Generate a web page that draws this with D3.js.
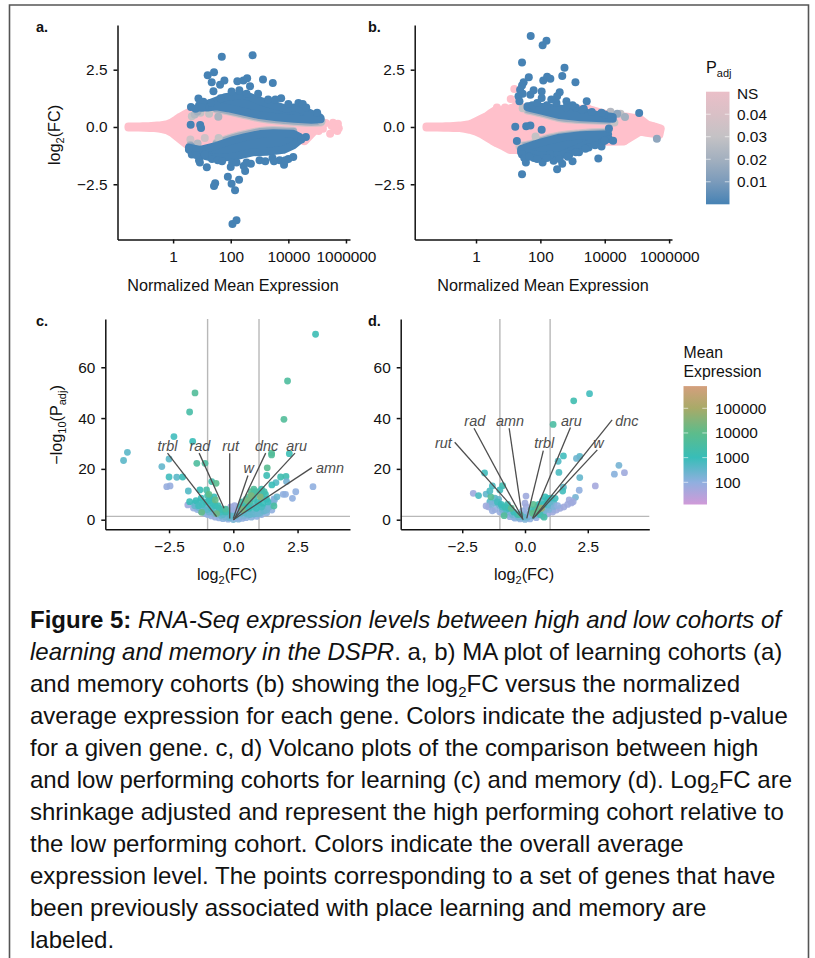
<!doctype html>
<html lang="en">

<head>
  <title>RNA-Seq expression levels, Figure 5</title>
  <meta charset="utf-8" />
  <script src="https://d3js.org/d3.v7.min.js"></script>
  <style>
    body { margin: 0; background: #fff; }
    svg { display: block; }
    text { font-family: "Liberation Sans", Arial, sans-serif; fill: #111; }
    .axis path, .axis line { stroke: #111; stroke-width: 1.5; }
    .axis text { font-size: 15.4px; fill: #111; font-family: "Liberation Sans", Arial, sans-serif; }
  </style>
</head>

<body>
  <svg id="fig" width="815" height="958"></svg>

  <script>
    // MA plots: values are [log10(mean expression), log2FC]
    const maTickValues = [0, 2, 4, 6];
    const maTickLabels = ["1", "100", "10000", "1000000"];
    const lfcTicks = [-2.5, 0, 2.5];

    // panel a
    const aPinkTop = [[-1.55, .02], [-1.45, .02], [-1.35, .02], [-1.25, .02], [-1.15, .02], [-1.05, .03], [-.95, .03], [-.85, .03], [-.75, .04], [-.65, .05], [-.55, .06], [-.45, .07], [-.35, .09], [-.2, .12], [-.05, .2], [.1, .32], [.25, .45], [.4, .55], [.55, .65], [.7, .72], [1.2, .9], [2, .85], [3, .6], [4, .45], [4.6, .35], [4.95, .25], [5.15, .15]];
    const aPinkBottom = [[4.6, -.58], [4.3, -.4], [4, -.45], [3, -.55], [2, -.9], [1, -1.1], [.6, -.85], [.45, -.75], [.35, -.65], [.22, -.52], [.1, -.4], [-.05, -.25], [-.2, -.15], [-.35, -.1], [-.5, -.07], [-.65, -.05], [-.8, -.04], [-1, -.03], [-1.2, -.02], [-1.4, -.02], [-1.55, -.02]];
    const aPinkExtra = [[5.3, .17], [5.55, .18], [5.72, .14], [5.75, -.05], [5.7, -.17], [5.45, -.3], [5.2, -.08], [5.05, -.17], [4.55, -.62], [4.75, -.3], [5.5, .05], [5.6, -.1]];
    const aUpOuter = [[.9, .95], [1.2, 1], [1.5, 1.15], [1.8, 1.3], [2.1, 1.35], [2.4, 1.4], [2.7, 1.3], [3, 1.15], [3.3, 1.02], [3.6, .92], [3.9, .8], [4.2, .85], [4.5, .74], [4.8, .58], [5, .5], [5.12, .4]];
    const aUpInner = [[5.12, .34], [4.8, .32], [4.2, .36], [3.6, .42], [3, .52], [2.4, .68], [1.9, .82], [1.5, .9], [1.2, .85], [.9, .85]];
    const aLowOuter = [[.55, -1], [.94, -1.22], [1.4, -1.35], [2.09, -1.3], [2.79, -1.1], [3.25, -1.08], [3.83, -1], [4.17, -.8], [4.4, -.56]];
    const aLowInner = [[4.4, -.44], [4.17, -.3], [3.48, -.27], [3.02, -.31], [2.5, -.44], [2.09, -.57], [1.51, -.82], [.94, -1], [.55, -.9]];
    const aBlue = [[1.69, 3.06], [2.76, 3.13], [1.2, 2.26], [1.42, 2.39], [1.34, 1.95], [1.78, 2.03], [1.63, 1.84], [1.4, 1.56], [2.23, 2], [2.44, 2.03], [2.57, 2.13], [2.67, 1.78], [3.12, 2.07], [3.46, 1.92], [.88, 1.24], [.62, .87], [.61, .1], [.94, .09], [.97, -.04],
      [2.03, 1.55], [2.3, 1.6], [2.55, 1.45], [2.95, 1.45], [3.3, 1.2], [3.55, 1.2], [3.75, 1.25], [4, 1], [4.35, 1.05], [4.5, 1], [4.62, .85], [1.65, 1.25], [1.3, 1.05], [1.1, .9], [1.05, 1.1], [.78, .8], [1, .85], [5, .62],
      [4.61, -.44], [1.17, -1.76], [1.9, -2.17], [1.46, -2.45], [1.42, -2.58], [2.03, -2.48], [2.29, -2.3], [2.15, -2.76], [2.06, -4.23], [2.2, -4.07], [2.5, -1.92], [2, -1.75], [2.05, -1.55], [2.2, -1.55], [2.45, -1.7], [2.7, -1.6], [3, -1.45], [3.2, -1.5], [3.45, -1.35], [3.7, -1.45], [3.85, -1.65], [4, -1.4], [4.17, -1.31], [.65, -1.2], [.9, -1.45], [.93, -1.55], [1.35, -1.4], [1.55, -1.45], [1.7, -1.5], [.55, -.95], [4.45, -.55], [.8, -1.22], [1.1, -1.2], [2.55, -1.55], [3.5, -1.5], [3.9, -1.45]];
    // faded inner edges of the blue bands: [log10 expression, log2FC], padj given per curve
    const aUpFade = [[1.5, .76], [1.9, .68], [2.4, .54], [3, .38], [3.6, .28], [4.2, .22], [4.8, .18], [5.12, .2]];
    const aLowFade = [[1.51, -.68], [2.09, -.43], [2.5, -.3], [3.02, -.17], [3.48, -.13], [4.17, -.16]];
    // single points with an intermediate padj: [log10 expression, log2FC, padj]
    const aFringe = [[.65, .47, .03], [.75, .55, .025], [.85, .68, .02], [1.25, .58, .03], [1.57, .45, .022], [.95, .62, .03], [.6, -.55, .035], [1.1, -.48, .035], [1.58, -.48, .03], [.6, -.8, .02], [.62, -.85, .012], [.85, -.72, .025], [5.15, .25, .028]];

    // panel b
    const bPinkTop = [[-1.54, .02], [-1.44, .02], [-1.34, .02], [-1.24, .02], [-1.14, .02], [-1.04, .02], [-.94, .03], [-.8, .03], [-.7, .04], [-.6, .05], [-.5, .06], [-.35, .09], [-.2, .12], [-.1, .18], [0, .25], [.15, .35], [.33, .47], [.45, .6], [.6, .73], [.85, .73], [1.27, .9], [2, .75], [3.45, .8], [4.2, .5], [4.7, .45], [5.1, .35], [5.33, .1], [5.55, .02], [5.74, -.07]];
    const bPinkBottom = [[5.7, -.33], [5.3, -.25], [5.1, -.2], [4.6, -.63], [3.95, -.65], [3, -.8], [2, -1], [1.27, -1], [1.05, -1], [.85, -.85], [.65, -.72], [.5, -.6], [.33, -.45], [.15, -.3], [0, -.2], [-.2, -.12], [-.35, -.08], [-.5, -.05], [-.7, -.04], [-.85, -.03], [-1, -.03], [-1.2, -.02], [-1.4, -.02], [-1.54, -.02]];
    const bPinkExtra = [[1.19, 1.66], [1.08, 1.22], [1.25, 1.05], [3.45, .85], [4.95, .4], [4.9, .25], [5.5, .02], [4.62, -.6], [.65, .85], [.9, .85]];
    const bUpOuter = [[1.6, .9], [1.8, .92], [2.4, .82], [3.05, .75], [3.65, .55], [4.25, .44]];
    const bUpInner = [[4.25, .36], [3.25, .42], [2.6, .52], [2, .72], [1.6, .86]];
    const bLowOuter = [[1.4, -1.1], [2, -1.25], [2.6, -1.25], [3.25, -.87], [3.85, -.55]];
    const bLowInner = [[4.1, -.32], [3.25, -.36], [2.6, -.47], [2, -.68], [1.4, -.96]];
    const bBlue = [[1.7, 3.97], [2.07, 3.57], [2.19, 3.76], [1.43, 2.81], [2.75, 2.58], [1.64, 2.17], [2.68, 2.22], [3.09, 1.95], [2.09, 2.03], [2.21, 2.19], [2.31, 2.1], [1.48, 1.95], [1.43, 1.81], [1.37, 1.63], [1.32, 1.34], [1.35, 1.12], [1.45, 1.45], [1.79, 1.6], [1.69, 1.41], [2.04, 1.55], [2.04, 1.27], [2.6, 1.52], [2.52, 1.34], [2.81, 1.12], [3.44, 1.12], [2.34, 1.2], [5.07, .61], [1.22, .01], [1.56, .03], [1.69, .06], [2.04, -.12], [4.13, -.07], [1.27, -.61], [4.13, -.52], [4.26, -.6], [3.92, -.67], [3.8, -1.37], [1.43, -2.06], [1.55, -1.55], [2.07, -1.55], [2.52, -1.84], [2.68, -1.6], [2.41, -1.47], [3, -1.49], [1.8, -1.35], [1.43, -1.2], [1.5, -1.35], [1.65, -1.3], [2.3, -1.2], [2.9, -1.2], [3.2, -1.1], [3.5, -.9], [1.75, .95], [2.85, .95], [3.1, .85], [3.35, .8], [4, .55], [4.2, .4],
      [1.9, 1.05], [2.2, .95], [2.5, 1.05], [2.8, .85], [3, .95], [3.3, .75], [3.6, .65], [3.9, .62], [1.9, -1.4], [2.2, -1.35], [2.6, -1.4], [2.85, -1.3], [3.1, -1.1], [3.4, -.95], [3.7, -.8], [3.9, -.85], [4, -.6]];
    const bUpFade = [[1.6, .72], [2, .6], [2.6, .38], [3.25, .3], [4.2, .26]];
    const bLowFade = [[1.4, -.82], [1.75, -.72], [2, -.58], [2.6, -.37], [3.25, -.27], [4.1, -.2]];
    const bFringe = [[4.39, .58, .015], [4.63, .44, .02], [4.18, .67, .025], [4.49, .58, .03], [5.62, -.51, .015], [1.45, .82, .03], [1.6, .85, .025], [1.85, -.42, .03], [1.35, -.85, .035], [4.3, .2, .03]];

    // volcano plots: values are [log2FC, -log10(padj), log10(mean expression)]
    const volcanoTicksY = [0, 20, 40, 60];
    const cPoints = [[-1.55, 4.6, 1.9], [-1.77, 5.8, 1.8], [-1.4, 4, 2], [-1.25, 3.2, 2], [-1.1, 2.5, 2.1], [-1, 2, 2], [-.85, 1.5, 2], [-.7, 1, 1.9], [-.55, .7, 2], [-.4, .4, 2.1], [-.2, .2, 2], [0, .05, 2.3], [.2, .2, 2.2], [.35, .5, 2], [.5, .8, 2], [.7, 1, 2.1], [.9, 1.3, 2], [1.1, 2, 2], [1.3, 2.7, 2.1], [1.5, 3.8, 2], [-.1, 5, 1.8], [.05, 5.5, 1.8], [.2, 5, 1.9], [-.3, 4, 1.9],
      [-.2, 3.2, 1.8], [-.1, 3.8, 1.9], [.05, 3, 1.9], [.15, 4, 1.8], [0, 2, 2], [.1, .8, 2], [-.05, .8, 2.1], [.25, 1, 2.1], [.4, 1.5, 2.2], [.55, 1.8, 2.3], [-.75, 2.5, 2.3], [-.6, 2, 2.2], [-.45, 1.5, 2.4], [-.3, 1, 2.3], [-.15, .8, 2.4], [-.95, 3, 2.4], [-1.15, 3.8, 2.4], [-1.35, 4.8, 2.4],
      [-1.5, 6.5, 2.7], [-1.3, 7, 2.7], [-1.1, 5, 2.6], [-.9, 6, 2.7], [-.75, 4, 2.5], [-.6, 3, 2.5], [-.4, 2, 2.6], [-.25, 2.5, 2.5], [-.1, 1.5, 2.6], [.1, 1.5, 2.5], [.3, 2.5, 2.6], [.45, 3.5, 2.6], [.6, 3, 2.7], [.75, 4, 2.7], [.9, 3, 2.5], [1.05, 3.5, 2.6], [1.2, 4.5, 2.7], [1.35, 5, 2.6], [1.45, 6.5, 2.4], [1.6, 7.8, 2.1], [1.58, 8.2, 2.1], [-1.5, 5.5, 2.5], [-1, 4, 2.6], [-.85, 4.5, 2.8], [-.5, 3, 2.9], [.5, 2.5, 2.6], [.65, 2, 2.5], [.8, 2.2, 2.5], [.95, 2.3, 2.4], [1.05, 2.6, 2.4], [1.2, 3.5, 2.5], [1.3, 3.8, 2.4], [1.4, 5, 2.3], [1.55, 6.5, 2.2], [1.7, 9, 2.5],
      [-1.45, 7.5, 3], [-1.35, 5.5, 2.9], [-1.2, 6, 2.9], [-1.05, 7, 3.1], [-.9, 8.5, 3.1], [-.75, 9, 3], [-.7, 5.5, 3], [-.55, 4.5, 3.1], [.7, 5, 2.8], [.85, 5.5, 2.8], [1, 6, 2.9], [1.1, 5, 2.8], [.9, 4.5, 2.9], [.45, 5, 3.1], [.6, 6, 3.2], [1.35, 7, 2.9], [-1.25, 8.5, 3], [-1, 9.5, 3.1], [-.95, 7.5, 3.1], [-.8, 6.5, 3], [-.6, 5.5, 3.1], [-.45, 4, 3.2], [-.3, 3, 3.2], [.3, 5, 3.2], [.5, 6, 3.3], [.65, 7, 3.4], [.8, 8, 3.2], [.9, 10, 3.1], [1, 11, 3.2], [.8, 12, 3.7], [.7, 11, 3.8], [.95, 7, 3.1], [1.1, 9, 3.1], [1.25, 10, 3.1], [1.3, 8, 3], [1.15, 6.5, 3], [.4, 4, 3.4], [.6, 4.5, 3], [-1.7, 7.1, 3], [-1.75, 11.3, 2.7], [-1.3, 11.7, 3], [-1.04, 11.7, 3.4], [.75, 10, 3.5], [.6, 9, 3.8], [.85, 11, 3.5], [1.1, 12, 3.2], [1.2, 11, 3.3], [.35, 7, 3.3], [.5, 8, 3.5],
      [-.95, 10, 4], [-.7, 7.8, 4.1], [-.65, 2.4, 4.2], [-1.23, 2.9, 4.1], [.7, 9.5, 4.4], [.55, 7.5, 4.3], [1.05, 9, 4.5], [.35, 4, 4.5], [-.84, 15, 3.3], [-.67, 14.3, 3.9], [-.3, 4.2, 3.6],
      [3.2, 73, 3.1], [2.11, 54.6, 3.6], [1.97, 39.5, 3.7], [-1.49, 49.9, 3.7], [-1.7, 42.4, 3.4], [-2.31, 32.7, 2.9], [-1.58, 30.8, 3], [-4.12, 26.5, 2.6], [-4.27, 23.3, 2.6], [-2.5, 23.9, 2.6], [-2.78, 20.9, 2.5], [-1.42, 22.2, 3.6], [-1.1, 22.2, 3.6], [1.49, 26.2, 3.7], [1.49, 25.5, 3.7], [2.18, 26, 3.1], [1.32, 20.4, 3.9], [1.3, 17.4, 3.1], [-2.5, 16.8, 2.9], [-2.2, 16.7, 2.6], [-1.97, 16.8, 3], [1.84, 16.8, 3.2], [2.05, 17, 3.2], [2.07, 15, 2.3], [1.66, 14.6, 2.7], [1.5, 13.7, 3], [3.1, 13, 2], [2.43, 11, 2], [1.94, 10, 2], [2.03, 10, 2], [2.3, 8.4, 2], [-2.59, 13, 1.9], [-2.46, 13.3, 1.9], [1.58, 5.4, 3.5]];
    const dPoints = [[-1.45, 5, 1.8], [-1.2, 4, 1.9], [-1, 3, 1.9], [-.85, 2.2, 1.9], [-.6, 1.2, 1.9], [-.4, .6, 2], [-.2, .3, 2], [0, .1, 2.2], [.2, .3, 2], [.45, .8, 1.9], [.7, 1.5, 1.9], [.9, 2.3, 1.8], [1.1, 3, 1.8], [1.25, 3.8, 1.8], [1.4, 4.5, 1.8], [1.55, 5, 1.8], [1.7, 6, 1.8], [1.85, 6.6, 1.8], [0, 6.5, 1.8], [.05, 5, 1.8], [1.1, 4, 1.9], [-1.3, 3.5, 1.9], [-.85, 3, 2], [-.65, 2, 2], [-.45, 1, 2.1], [-.1, 3.5, 2], [.05, 2.5, 2],
      [-1.2, 6.5, 2.4], [-1, 5.5, 2.4], [-.9, 4, 2.3], [-.7, 3, 2.3], [-.5, 2, 2.4], [-.25, 1, 2.4], [.1, 1, 2.4], [.3, 1.5, 2.4], [.55, 2.5, 2.3], [.75, 3, 2.3], [.95, 4, 2.2], [1, 5.5, 2.4], [.9, 7, 2.6], [1.15, 6.5, 2.6], [-1.05, 8, 2.5], [-1.4, 7, 2.6], [-1.2, 8.5, 2.6], [-1.35, 6, 2.2], [-1.05, 6.2, 2.3], [-.55, 3.2, 2.2], [-.35, 1.8, 2.2], [-.15, 1.5, 2.3], [.15, 1.8, 2.1], [.45, 1.8, 2.3], [.65, 3.2, 2.4], [.85, 4.5, 2.3], [1.15, 5.2, 2.2], [1.3, 5.5, 2], [-.05, 1, 2.5], [.9, 5.8, 2.6],
      [-1.1, 7, 2.9], [-.9, 5, 2.8], [-.75, 4, 2.7], [-.7, 6, 3.2], [1, 7, 2.5], [.7, 7.5, 2.8], [.55, 6, 3], [.4, 4, 3.3], [-.95, 6, 3], [-.8, 5, 3.1], [-.65, 4.5, 3.1], [-.45, 3, 3], [-.3, 2, 3.1], [.35, 3, 3.1], [.6, 2, 3.2], [.75, 6, 3], [.9, 8, 3], [1.05, 8.5, 2.9], [.8, 9, 3], [.5, 5, 3], [.25, 4, 3.2],
      [-.55, 4.5, 3.9], [-.2, 2, 3.5], [.3, 2.5, 4], [.33, 6, 3.9], [.66, 4.5, 4.8], [-.83, 1.6, 3.7], [.76, 1, 3.4], [.5, 3.5, 4.2],
      [2.57, 49.6, 2.9], [1.94, 46.8, 3.2], [1.12, 37.5, 3.5], [1.53, 25.1, 2.9], [1.32, 23, 2.7], [2.18, 24.9, 2.6], [2.05, 24.1, 2.4], [3.74, 21.4, 2.3], [3.56, 17.9, 2.1], [3.96, 18.5, 1.8], [1.35, 18.6, 2.8], [2.18, 16.6, 2.5], [2.8, 13.3, 1.7], [2.16, 11.6, 2], [1.53, 12.8, 2.6], [1.5, 11.3, 2.9], [2.01, 8.8, 2.3], [1.92, 7.1, 1.8], [1.76, 7.8, 1.8], [-1.61, 18.4, 2.9], [-2.06, 10.4, 1.8], [-1.85, 9.5, 2.8], [-1.3, 13.3, 2.8], [-.89, 13.4, 3.2], [-1.55, 10.1, 2.5], [-1.36, 9, 3.8], [-1, 11.7, 2.9], [-1.4, 11.3, 2.8], [-1.55, 5.4, 1.8], [.04, 9.3, 1.8], [.93, 8.4, 3], [1.2, 8.4, 2.9]];

    // gene labels: [name, label x, label y, line start x, y, line end x, y]
    const cLabels = [["trbl", -2.56, 28.9, -2.56, 26.2, -.65, 1.2], ["rad", -1.3, 28.9, -1.33, 26.2, -.36, 4.5], ["rut", -.1, 28.9, -.14, 26.2, -.14, .5], ["dnc", 1.3, 28.9, 1.26, 26.2, .03, 0], ["aru", 2.46, 28.9, 2.4, 26.2, 0, 0], ["w", .6, 20.3, .57, 17.4, 0, .5], ["amn", 3.76, 20.3, 3.06, 20.5, 0, 0]];
    const dLabels = [["rut", -3.25, 30.1, -2.8, 30.5, -.1, .5], ["rad", -2, 38.9, -2.03, 36, -.07, 0], ["amn", -.6, 38.9, -.63, 36, -.1, .5], ["trbl", .77, 30.1, .73, 27.2, .07, .5], ["aru", 1.85, 38.9, 1.81, 36.3, .3, .5], ["dnc", 4.06, 38.9, 3.47, 39.3, .33, .5], ["w", 2.93, 30.1, 2.88, 27.5, .4, 1.2]];

    // legends
    const padjStops = [0, .01, .02, .03, .04, .05];
    const padjColors = ["#4682b4", "#7b9bbb", "#a3b0bf", "#c4c2c5", "#d9c0c6", "#eabfc8"];
    const padjTicks = [.04, .03, .02, .01];
    const exprStops = [1.1, 2, 3, 4, 5, 5.9];
    const exprColors = ["#d09ad8", "#90afdf", "#38bdb8", "#5dbc8b", "#a8aa68", "#d49f7d"];
    const exprTicks = [5, 4, 3, 2];
    const exprTickLabels = ["100000", "10000", "1000", "100"];

    // caption: each line is a list of [text, style] runs
    const caption = [
      [["Figure 5: ", "b"], ["RNA-Seq expression levels between high and low cohorts of", "i"]],
      [["learning and memory in the DSPR", "i"], [". a, b) MA plot of learning cohorts (a)", ""]],
      [["and memory cohorts (b) showing the log", ""], ["2", "s"], ["FC versus the normalized", ""]],
      [["average expression for each gene. Colors indicate the adjusted p-value", ""]],
      [["for a given gene. c, d) Volcano plots of the comparison between high", ""]],
      [["and low performing cohorts for learning (c) and memory (d). Log", ""], ["2", "s"], ["FC are", ""]],
      [["shrinkage adjusted and represent the high performing cohort relative to", ""]],
      [["the low performing cohort. Colors indicate the overall average", ""]],
      [["expression level. The points corresponding to a set of genes that have", ""]],
      [["been previously associated with place learning and memory are", ""]],
      [["labeled.", ""]]
    ];

    const svg = d3.select("#fig");
    const pink = "#ffc0cb";
    const blue = "#4682b4";
    const dotR = 4;
    const padjColor = d3.scaleLinear().domain(padjStops).range(padjColors);
    const exprColor = d3.scaleLinear().domain(exprStops).range(exprColors);

    /* Text with an optional subscript part, e.g. log2(FC). */
    function richText(g, parts, fontSize) {
      parts.forEach(p => {
        const t = g.append("tspan").text(p[0]);
        if (p[1] == "s") {
          t.attr("font-size", fontSize * .68).attr("dy", fontSize * .25);
        } else if (p[2]) {
          t.attr("dy", -fontSize * .25);
        }
      });
      return g;
    }

    function drawAxes(g, x, y, xTicks, xFormat, yTicks) {
      g.append("g").attr("class", "axis")
        .attr("transform", "translate(0," + y.range()[0] + ")")
        .call(d3.axisBottom(x).tickValues(xTicks).tickFormat(xFormat).tickSize(4).tickPadding(8).tickSizeOuter(0));
      g.append("g").attr("class", "axis")
        .attr("transform", "translate(" + x.range()[0] + ",0)")
        .call(d3.axisLeft(y).tickValues(yTicks).tickFormat(d => d3.format(".1f")(d).replace("-", "\u2212")).tickSize(4).tickPadding(6).tickSizeOuter(0));
    }

    function drawDots(g, x, y, pts, color) {
      g.append("g").selectAll("circle").data(pts).enter().append("circle")
        .attr("cx", d => x(d[0])).attr("cy", d => y(d[1])).attr("r", dotR).attr("fill", color);
    }

    /* Dense part of a cloud: an outline stroked as wide as one dot. */
    function drawMass(g, x, y, pts, color) {
      g.append("path")
        .attr("d", d3.line().x(d => x(d[0])).y(d => y(d[1]))(pts) + "Z")
        .attr("fill", color).attr("stroke", color)
        .attr("stroke-width", dotR * 2).attr("stroke-linejoin", "round");
    }

    /* Grey-to-blue edge of a band, drawn as a round line under the band. */
    function drawFade(g, x, y, pts, padj) {
      g.append("path")
        .attr("d", d3.line().curve(d3.curveMonotoneX).x(d => x(d[0])).y(d => y(d[1]))(pts))
        .attr("fill", "none").attr("stroke", padjColor(padj))
        .attr("stroke-width", dotR * 2).attr("stroke-linecap", "round");
    }

    function makeMA(p) {
      const g = svg.append("g");
      const x = d3.scaleLinear().domain(p.xDomain).range(p.xRange);
      const y = d3.scaleLinear().domain([-4.91, 4.45]).range([239.5, 25]);

      drawMass(g, x, y, p.pinkTop.concat(p.pinkBottom), pink);
      drawDots(g, x, y, p.pinkExtra, pink);

      drawFade(g, x, y, p.upFade, .036);
      drawFade(g, x, y, p.lowFade, .036);
      g.append("g").attr("transform", "translate(0,-1.2)").call(s => drawFade(s, x, y, p.upFade, .018));
      g.append("g").attr("transform", "translate(0,1.2)").call(s => drawFade(s, x, y, p.lowFade, .018));

      const fringe = p.fringe.slice().sort((a, b) => b[2] - a[2]);
      g.append("g").selectAll("circle").data(fringe).enter().append("circle")
        .attr("cx", d => x(d[0])).attr("cy", d => y(d[1])).attr("r", dotR).attr("fill", d => padjColor(d[2]));

      drawMass(g, x, y, p.upOuter.concat(p.upInner), blue);
      drawMass(g, x, y, p.lowOuter.concat(p.lowInner), blue);
      drawDots(g, x, y, p.blue, blue);

      drawAxes(g, x, y, maTickValues, (d, i) => maTickLabels[i], lfcTicks);
      g.append("text").attr("x", p.titleX).attr("y", 290.5).attr("text-anchor", "middle").attr("font-size", 16.2)
        .text("Normalized Mean Expression");
      g.append("text").attr("x", p.letterX).attr("y", 32).attr("font-size", 14.5).attr("font-weight", "bold").text(p.letter);
    }

    function makeVolcano(p) {
      const g = svg.append("g");
      const x = d3.scaleLinear().domain(p.xDomain).range(p.xRange);
      const y = d3.scaleLinear().domain([-3.78, 79]).range([529.3, 319]);

      // significance cut-offs
      g.append("line").attr("x1", x.range()[0]).attr("x2", x.range()[1]).attr("y1", y(1.3)).attr("y2", y(1.3))
        .attr("stroke", "#b8b8b8").attr("stroke-width", 1.2);
      [-1, 1].forEach(v => {
        g.append("line").attr("x1", x(v)).attr("x2", x(v)).attr("y1", y.range()[0]).attr("y2", y.range()[1])
          .attr("stroke", "#b8b8b8").attr("stroke-width", 1.4);
      });

      g.append("g").selectAll("circle").data(p.points).enter().append("circle")
        .attr("cx", d => x(d[0])).attr("cy", d => y(d[1])).attr("r", 3.4)
        .attr("fill", d => exprColor(d[2])).attr("fill-opacity", .9);

      const labels = g.append("g").selectAll("g").data(p.labels).enter().append("g");
      labels.append("line")
        .attr("x1", d => x(d[3])).attr("y1", d => y(d[4]))
        .attr("x2", d => x(d[5])).attr("y2", d => y(d[6]))
        .attr("stroke", "#4d4d4d").attr("stroke-width", 1.3);
      labels.append("text")
        .attr("x", d => x(d[1])).attr("y", d => y(d[2]))
        .attr("text-anchor", "middle").attr("dominant-baseline", "central")
        .attr("font-size", 14.4).attr("font-style", "italic").style("fill", "#4d4d4d")
        .text(d => d[0]);

      g.append("g").attr("class", "axis")
        .attr("transform", "translate(0," + y.range()[0] + ")")
        .call(d3.axisBottom(x).tickValues(lfcTicks).tickFormat(d => d3.format(".1f")(d).replace("-", "\u2212")).tickSize(4).tickPadding(8).tickSizeOuter(0));
      g.append("g").attr("class", "axis")
        .attr("transform", "translate(" + x.range()[0] + ",0)")
        .call(d3.axisLeft(y).tickValues(volcanoTicksY).tickSize(4).tickPadding(6).tickSizeOuter(0));

      richText(g.append("text").attr("x", p.titleX).attr("y", 579.5).attr("text-anchor", "middle").attr("font-size", 16.2),
        [["log"], ["2", "s"], ["(FC)", "", true]], 16.2);
      g.append("text").attr("x", p.letterX).attr("y", 326).attr("font-size", 14.5).attr("font-weight", "bold").text(p.letter);
    }

    /* Vertical colour bar with a gradient built from the scale stops. */
    function makeColorBar(id, stops, colors, yScale, barX, barW, ticks, labels, labelX) {
      const grad = svg.append("defs").append("linearGradient").attr("id", id)
        .attr("x1", 0).attr("x2", 0).attr("y1", 1).attr("y2", 0);
      const lo = stops[0], hi = stops[stops.length - 1];
      stops.forEach((s, i) => {
        grad.append("stop").attr("offset", (s - lo) / (hi - lo)).attr("stop-color", colors[i]);
      });
      const g = svg.append("g");
      g.append("rect").attr("x", barX).attr("width", barW)
        .attr("y", yScale(hi)).attr("height", yScale(lo) - yScale(hi))
        .attr("fill", "url(#" + id + ")");
      ticks.forEach((t, i) => {
        [[barX, barX + barW / 5], [barX + barW * 4 / 5, barX + barW]].forEach(e => {
          g.append("line").attr("x1", e[0]).attr("x2", e[1]).attr("y1", yScale(t)).attr("y2", yScale(t))
            .attr("stroke", "#fff").attr("stroke-opacity", .6);
        });
        g.append("text").attr("x", labelX).attr("y", yScale(t)).attr("dominant-baseline", "central")
          .attr("font-size", 15.4).text(labels[i]);
      });
    }

    function makeCaption() {
      const lineY = d3.scaleLinear().domain([0, 10]).range([628, 948]);
      caption.forEach((line, i) => {
        const t = svg.append("text").attr("x", 30).attr("y", lineY(i)).attr("font-size", 24);
        line.forEach((run, j) => {
          const s = t.append("tspan").text(run[0]);
          if (run[1] == "b") s.attr("font-weight", "bold");
          if (run[1] == "i") s.attr("font-style", "italic");
          if (run[1] == "s") s.attr("font-size", 15).attr("dy", 5);
          if (j > 0 && line[j - 1][1] == "s") s.attr("dy", -5);
        });
      });
    }

    // outer frame of the figure box
    svg.append("path").attr("d", d3.line()([[9.5, 958], [9.5, 5], [808.5, 5], [808.5, 958]]))
      .attr("fill", "none").attr("stroke", "#555").attr("stroke-width", 1.6);

    makeMA({ letter: "a.", letterX: 36, titleX: 233, xDomain: [-1.93, 6.14], xRange: [117.5, 350],
      pinkTop: aPinkTop, pinkBottom: aPinkBottom, pinkExtra: aPinkExtra, fringe: aFringe, upFade: aUpFade, lowFade: aLowFade,
      upOuter: aUpOuter, upInner: aUpInner, lowOuter: aLowOuter, lowInner: aLowInner, blue: aBlue });
    makeMA({ letter: "b.", letterX: 368, titleX: 543, xDomain: [-1.905, 6.09], xRange: [414.7, 672],
      pinkTop: bPinkTop, pinkBottom: bPinkBottom, pinkExtra: bPinkExtra, fringe: bFringe, upFade: bUpFade, lowFade: bLowFade,
      upOuter: bUpOuter, upInner: bUpInner, lowOuter: bLowOuter, lowInner: bLowInner, blue: bBlue });
    makeVolcano({ letter: "c.", letterX: 36, titleX: 227, xDomain: [-4.98, 4.54], xRange: [105.3, 350], points: cPoints, labels: cLabels });
    makeVolcano({ letter: "d.", letterX: 368, titleX: 524, xDomain: [-4.95, 4.95], xRange: [400.7, 649.3], points: dPoints, labels: dLabels });

    // shared y titles
    richText(svg.append("text").attr("transform", "translate(60,135) rotate(-90)").attr("text-anchor", "middle").attr("font-size", 16.2),
      [["log"], ["2", "s"], ["(FC)", "", true]], 16.2);
    richText(svg.append("text").attr("transform", "translate(62,425) rotate(-90)").attr("text-anchor", "middle").attr("font-size", 16.2),
      [["\u2212log"], ["10", "s"], ["(P", "", true], ["adj", "s"], [")", "", true]], 16.2);

    // P adj legend
    richText(svg.append("text").attr("x", 706).attr("y", 73).attr("font-size", 16.2), [["P"], ["adj", "s"]], 16.2);
    makeColorBar("padjGrad", padjStops, padjColors, d3.scaleLinear().domain([0, .05]).range([204.3, 91.7]), 706, 23.5, padjTicks, padjTicks.map(d => d3.format(".2f")(d)), 737);
    svg.append("text").attr("x", 737).attr("y", 93).attr("dominant-baseline", "central").attr("font-size", 15.4).text("NS");

    // mean expression legend
    svg.append("text").attr("x", 683.5).attr("y", 358).attr("font-size", 15.8).text("Mean");
    svg.append("text").attr("x", 683.5).attr("y", 376.5).attr("font-size", 15.8).text("Expression");
    const exprY = d3.scaleLinear().domain([2, 5]).range([482.3, 408.3]);
    makeColorBar("exprGrad", exprStops, exprColors, exprY, 683.5, 23.5, exprTicks, exprTickLabels, 715);

    makeCaption();
  </script>

</body></html>
